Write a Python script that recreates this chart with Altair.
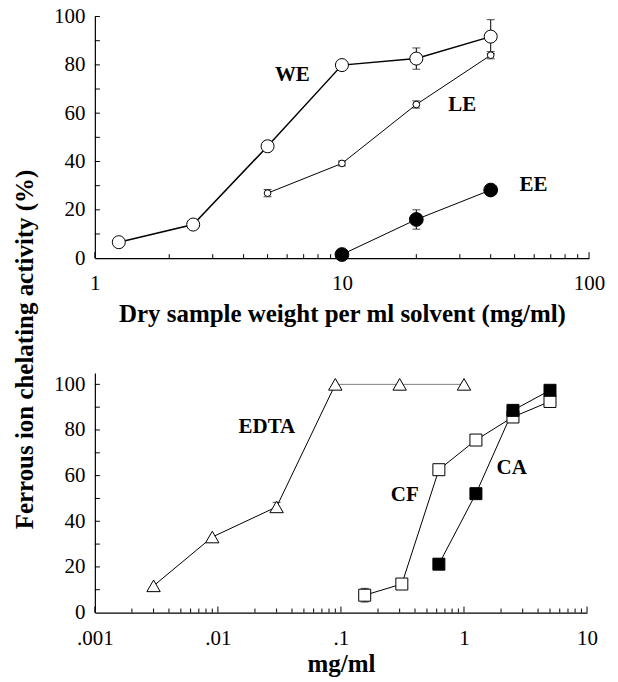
import altair as alt
import pandas as pd

# ---------------- data ----------------
# top panel: dry sample weight per ml solvent (mg/ml)
we_x = [1.25, 2.5, 5, 10, 20, 40]
we_y = [6.6, 13.9, 46.3, 79.9, 82.6, 91.7]
we_err = [0, 0, 2.0, 0, 4.4, 7.0]

le_x = [5, 10, 20, 40]
le_y = [26.9, 39.2, 63.6, 84.0]
le_err = [1.5, 1.0, 1.5, 1.5]

ee_x = [10, 20, 40]
ee_y = [1.5, 16.0, 28.2]
ee_err = [0, 4.0, 0]

# bottom panel: mg/ml
edta_x = [0.003, 0.009, 0.03, 0.09, 0.3, 1]
edta_y = [11.7, 33.1, 46.3, 100, 100, 100]
edta_err = [0, 0, 2.0, 0, 0, 0]

cf_x = [0.156, 0.3125, 0.625, 1.25, 2.5, 5]
cf_y = [7.6, 12.5, 62.6, 75.6, 85.7, 92.5]
cf_err = [3.0, 0, 0, 0, 0, 0]

ca_x = [0.625, 1.25, 2.5, 5]
ca_y = [21.2, 52.1, 88.6, 97.4]
ca_err = [0, 0, 0, 0]

top_labels = ["WE", "LE", "EE"]
top_label_x = [6.3, 30.7, 59.6]
top_label_y = [75.9, 63.5, 30.1]

bot_labels = ["EDTA", "CF", "CA"]
bot_label_x = [0.025, 0.33, 2.44]
bot_label_y = [81.3, 51.4, 63.5]

top_x_major = [1, 10, 100]
top_x_minor = [2, 3, 4, 5, 6, 7, 8, 9, 20, 30, 40, 50, 60, 70, 80, 90]
bot_x_major = [0.001, 0.01, 0.1, 1, 10]
bot_x_minor = [m * d for d in [0.001, 0.01, 0.1, 1] for m in range(2, 10)]
y_labels = [0, 20, 40, 60, 80, 100]
y_ticks = [10, 20, 30, 40, 50, 60, 70, 80, 90, 100]

FONT = "Liberation Serif"
BLACK = "#000000"


def series_frames(specs):
    pts, lines, errs = [], [], []
    for name, xs, ys, es, style in specs:
        for x, y, e in zip(xs, ys, es):
            pts.append(dict(x=x, y=y, s=name, fill=style["fill"], size=style["size"],
                            shape=style["shape"], order=style["order"]))
            if e > 0:
                errs.append(dict(x=x, lo=y - e, hi=y + e))
        grey_from = style.get("grey_from")
        for i, (x, y) in enumerate(zip(xs, ys)):
            if grey_from is None or i <= grey_from:
                lines.append(dict(x=x, y=y, g=name, col=BLACK, sw=style["sw"]))
            if grey_from is not None and i >= grey_from:
                lines.append(dict(x=x, y=y, g=name + "_plateau", col="#808080", sw=style["sw"]))
    return pd.DataFrame(pts), pd.DataFrame(lines), pd.DataFrame(errs)


def panel(specs, labels, lx, ly, xdom, ydom, w, h, xmaj, xmin, xtitle,
          ytitle=None, title_pad=10, label_pad=14):
    pts, lines, errs = series_frames(specs)
    xs = alt.Scale(type="log", domain=xdom)
    ys = alt.Scale(domain=ydom, nice=False, zero=False)
    xaxis = alt.Axis(values=xmaj, ticks=False, grid=False, title=xtitle,
                     labelExpr="datum.value < 1 ? slice(format(datum.value, '.3~f'), 1) : format(datum.value, 'd')",
                     labelFont=FONT, labelFontSize=21, labelColor=BLACK, labelPadding=label_pad,
                     titleFont=FONT, titleFontSize=25, titleFontWeight="bold", titleColor=BLACK,
                     titlePadding=title_pad, domainColor=BLACK, domainWidth=1.2, labelFlush=False,
                     labelOverlap=False)
    yaxis_kw = dict(values=y_labels, ticks=False, grid=False, labelFont=FONT, labelFontSize=21,
                    labelColor=BLACK, labelPadding=10, domainColor=BLACK, domainWidth=1.2,
                    labelFlush=False, labelOverlap=False)
    if ytitle:
        yaxis = alt.Axis(title=ytitle, titleFont=FONT, titleFontSize=25, titleFontWeight="bold",
                         titleColor=BLACK, titleX=-70, titleY=333, titleAngle=270,
                         titleAlign="center", titleBaseline="middle", **yaxis_kw)
    else:
        yaxis = alt.Axis(title=None, **yaxis_kw)

    X = lambda f="x": alt.X(f"{f}:Q", scale=xs, axis=xaxis)
    Y = lambda f="y": alt.Y(f"{f}:Q", scale=ys, axis=yaxis)

    line = alt.Chart(lines).mark_line().encode(
        x=X(), y=Y(), detail="g:N",
        color=alt.Color("col:N", scale=None),
        strokeWidth=alt.StrokeWidth("sw:Q", scale=None),
    )
    layers = [line]
    if len(errs):
        layers.append(alt.Chart(errs).mark_rule(color=BLACK, strokeWidth=1).encode(
            x=X(), y=Y("lo"), y2="hi"))
        for f in ["lo", "hi"]:
            layers.append(alt.Chart(errs).mark_tick(color=BLACK, orient="horizontal",
                                                    size=8, thickness=1).encode(x=X(), y=Y(f)))
    layers.append(alt.Chart(pts).mark_point(filled=False, opacity=1, strokeWidth=1,
                                            stroke=BLACK).encode(
        x=X(), y=Y(),
        fill=alt.Fill("fill:N", scale=None),
        size=alt.Size("size:Q", scale=None),
        shape=alt.Shape("shape:N", scale=None),
        order=alt.Order("order:Q"),
    ))
    tl = pd.DataFrame(dict(x=lx, y=ly, t=labels))
    layers.append(alt.Chart(tl).mark_text(font=FONT, fontSize=21, fontWeight="bold",
                                          color=BLACK).encode(x=X(), y=Y(), text="t:N"))
    # inward axis ticks
    layers.append(alt.Chart(pd.DataFrame(dict(x=xmaj))).mark_rule(color=BLACK, strokeWidth=1).encode(
        x=X(), y=alt.value(h), y2=alt.value(h - 6)))
    layers.append(alt.Chart(pd.DataFrame(dict(x=xmin))).mark_rule(color=BLACK, strokeWidth=1).encode(
        x=X(), y=alt.value(h), y2=alt.value(h - 4)))
    layers.append(alt.Chart(pd.DataFrame(dict(y=y_ticks))).mark_rule(color=BLACK, strokeWidth=1).encode(
        y=Y(), x=alt.value(0), x2=alt.value(5)))
    return alt.layer(*layers).properties(width=w, height=h)


top_specs = [
    ("WE", we_x, we_y, we_err, dict(fill="white", size=170, shape="circle", sw=1.5, order=1)),
    ("LE", le_x, le_y, le_err, dict(fill="white", size=45, shape="circle", sw=1, order=2)),
    ("EE", ee_x, ee_y, ee_err, dict(fill="black", size=190, shape="circle", sw=1, order=3)),
]
bot_specs = [
    ("EDTA", edta_x, edta_y, edta_err, dict(fill="white", size=180, shape="triangle-up", sw=1,
                                            order=1, grey_from=3)),
    ("CF", cf_x, cf_y, cf_err, dict(fill="white", size=144, shape="square", sw=1, order=2)),
    ("CA", ca_x, ca_y, ca_err, dict(fill="black", size=144, shape="square", sw=1, order=3)),
]

top = panel(top_specs, top_labels, top_label_x, top_label_y, [1, 100], [0, 100], 495, 242,
            top_x_major, top_x_minor, "Dry sample weight per ml solvent (mg/ml)",
            ytitle="Ferrous ion chelating activity (%)", title_pad=8, label_pad=14)
bot = panel(bot_specs, bot_labels, bot_label_x, bot_label_y, [0.001, 10], [0, 105], 493, 240,
            bot_x_major, bot_x_minor, "mg/ml", title_pad=3, label_pad=15)

chart = alt.vconcat(top, bot, spacing=115, bounds="flush").configure_view(
    stroke=None).properties(padding={"left": 5, "top": -3, "right": 5, "bottom": 0})

chart.save("out.html", embed_options={"renderer": "svg", "actions": False})
